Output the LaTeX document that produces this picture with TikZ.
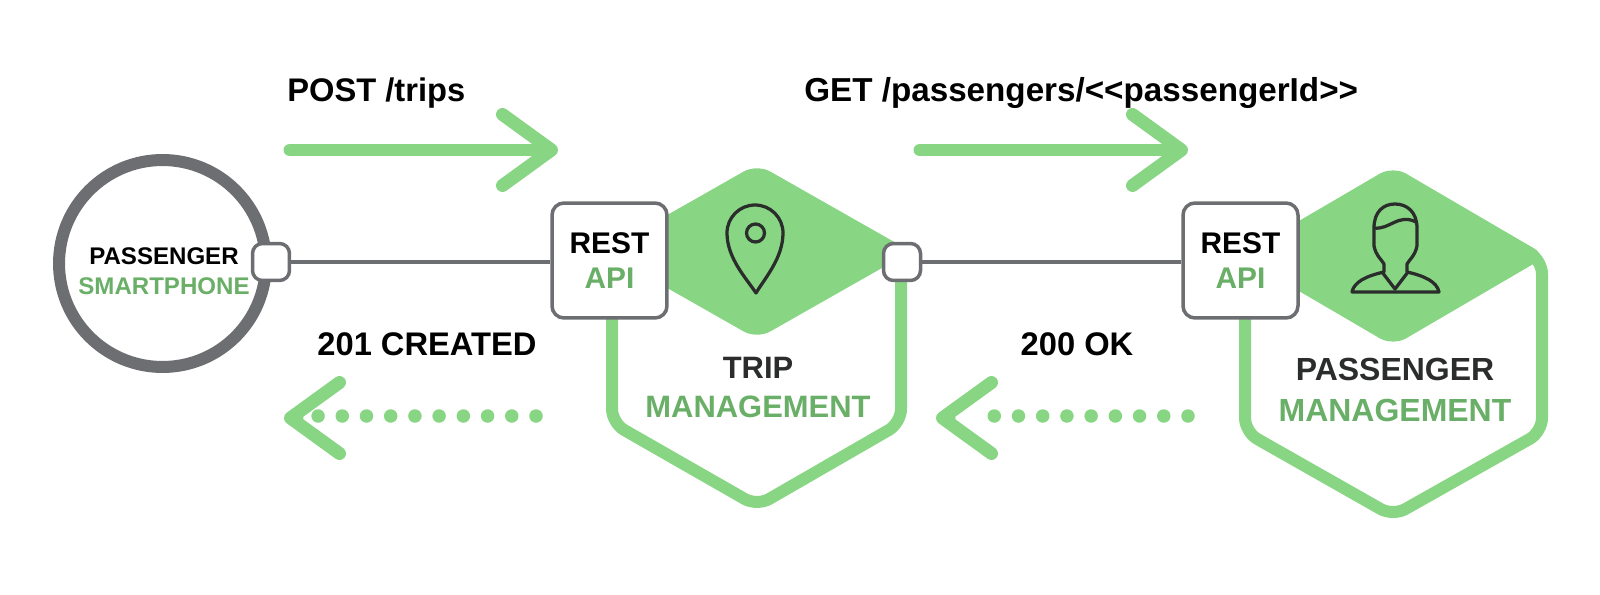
\documentclass[tikz,border=0pt]{standalone}
\usepackage{fontspec}
\setmainfont{Liberation Sans}
\usetikzlibrary{arrows.meta,calc,positioning}

\definecolor{hexgreen}{HTML}{88D684}
\definecolor{textgreen}{HTML}{6AAF67}
\definecolor{wiregray}{HTML}{6D6E71}
\definecolor{inkdark}{HTML}{2A2D2B}

\newcommand{\greentext}[1]{\textcolor{textgreen}{#1}}

\begin{document}
\begin{tikzpicture}[
        x=0.02cm, y=-0.02cm, font=\bfseries,
        >={Straight Barb[length=0.98cm,width=1.42cm,round]}
    ]

    \tikzstyle{restbox} = [rectangle,draw=wiregray,fill=white,line width=0.07cm,rounded corners=0.24cm,
        minimum width=2.3cm,minimum height=2.3cm,align=center,inner sep=0pt,
        font=\bfseries\fontsize{17pt}{20pt}\selectfont]
    \tikzstyle{portbox} = [rectangle,draw=wiregray,fill=white,line width=0.07cm,rounded corners=0.2cm,
        minimum size=0.74cm,inner sep=0pt]
    \tikzstyle{wire} = [draw=wiregray,line width=0.08cm]
    \tikzstyle{hexline} = [draw=hexgreen,line width=0.24cm,rounded corners=0.28cm]
    \tikzstyle{hextop} = [fill=hexgreen,rounded corners=0.3cm]
    \tikzstyle{flow} = [->,draw=hexgreen,line width=0.26cm,line cap=round]
    \tikzstyle{dots} = [draw=hexgreen,line width=0.27cm,line cap=round,dash pattern=on 0pt off 0.4844cm]
    \tikzstyle{msg} = [inner sep=0pt,font=\bfseries\fontsize{18.6pt}{22pt}\selectfont]
    \tikzstyle{icon} = [draw=inkdark,line width=0.065cm,line join=round]

    \useasboundingbox (0,0) rectangle (1600,595);

    % service hexagons
    \draw[hexline] (612,300) -- (612,423) -- (757,506) -- (901,423) -- (901,270);
    \fill[hextop] (757,164) -- (911,251.5) -- (757,339) -- (603,251.5) -- cycle;

    \draw[hexline] (1245,300) -- (1245,432) -- (1393,516) -- (1542,432) -- (1542,260) -- (1482,226);
    \fill[hextop] (1393,166) -- (1547,256) -- (1393,346) -- (1239,256) -- cycle;

    % pin and person
    \draw[icon] (727,233) arc[start angle=180,end angle=360,radius=28]
        .. controls (783,258) and (765,278) .. (756,293)
        .. controls (746,278) and (727,258) .. (727,233) -- cycle;
    \draw[icon] (755.5,233) circle[radius=9];

    \draw[icon] (1374,228) .. controls (1374,211) and (1384,204) .. (1395,204)
        .. controls (1407,204) and (1417,212) .. (1417,228) -- (1417,246)
        .. controls (1415,256) and (1409,260) .. (1407,264) -- (1407,272)
        .. controls (1425,276) and (1437,282) .. (1439,292) -- (1352,292)
        .. controls (1354,282) and (1366,276) .. (1384,272) -- (1384,264)
        .. controls (1382,260) and (1376,256) .. (1374,246) -- cycle;
    \draw[icon] (1374,228) .. controls (1390,230) and (1398,213) .. (1416,222);
    \draw[icon] (1382,272) -- (1395,289) -- (1408,272);

    % nodes
    \node[circle,draw=wiregray,line width=0.24cm,minimum size=4.14cm,inner sep=0pt] (phone) at (162.5,263.5) {};
    \node[align=center,inner sep=0pt,font=\bfseries\fontsize{13.7pt}{17pt}\selectfont] (phonetext) at (164,271)
        {PASSENGER\\\greentext{SMARTPHONE}};
    \node[portbox] (phoneport) at (271,262) {};

    \node[restbox] (triprest) at (609.5,260.5) {REST\\\greentext{API}};
    \node[portbox] (tripport) at (902,262) {};
    \node[restbox] (passrest) at (1240.5,260.5) {REST\\\greentext{API}};

    \node[align=center,inner sep=0pt,text=inkdark,font=\bfseries\fontsize{17.6pt}{22pt}\selectfont] (triptext) at (758,387.5)
        {TRIP\\\greentext{MANAGEMENT}};
    \node[align=center,inner sep=0pt,text=inkdark,font=\bfseries\fontsize{18.2pt}{22.8pt}\selectfont] (passtext) at (1395,390)
        {PASSENGER\\\greentext{MANAGEMENT}};

    \node[msg,anchor=base west] (postmsg) at (287,101) {POST /trips};
    \node[msg,anchor=base west,font=\bfseries\fontsize{18.9pt}{22pt}\selectfont] (getmsg) at (804,101) {GET /passengers/<{}<passengerId>{}>};
    \node[msg] (createdmsg) at (427,344) {201 CREATED};
    \node[msg] (okmsg) at (1077,344) {200 OK};

    % arrow ends
    \coordinate (postfrom) at (290,150);
    \coordinate (postto) at (558,150);
    \coordinate (getfrom) at (920,150);
    \coordinate (getto) at (1188,150);
    \coordinate (createdfrom) at (536,416);
    \coordinate (createdlast) at (318,416);
    \coordinate (createdneck) at (292,418);
    \coordinate (createdto) at (284,418);
    \coordinate (okfrom) at (1188,416);
    \coordinate (oklast) at (971,416);
    \coordinate (okneck) at (944,418);
    \coordinate (okto) at (936,418);

    % connectors
    \draw[wire] (phoneport.east) -- (phoneport.east -| triprest.west);
    \draw[wire] (tripport.east) -- (tripport.east -| passrest.west);

    \draw[flow] (postfrom) -- (postto);
    \draw[flow] (getfrom) -- (getto);
    \draw[dots] (createdfrom) -- (createdlast);
    \draw[flow] (createdneck) -- (createdto);
    \draw[dots] (okfrom) -- (oklast);
    \draw[flow] (okneck) -- (okto);

\end{tikzpicture}
\end{document}
